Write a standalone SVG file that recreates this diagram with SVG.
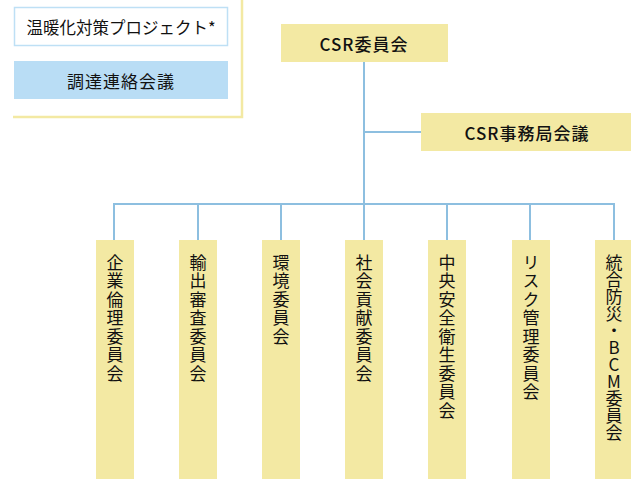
<svg xmlns="http://www.w3.org/2000/svg" width="631" height="479" viewBox="0 0 631 479">
<style>
.y{fill:#F3E9A3}
.t{font-family:"Noto Sans CJK JP","Noto Sans",sans-serif;fill:#111}
.h{font-size:17px;letter-spacing:1px;text-anchor:middle;dominant-baseline:central}
.m{font-weight:500}
.v{font-size:17px;letter-spacing:1.5px;writing-mode:vertical-rl;text-orientation:upright}
.c{stroke:#8DBFE0;stroke-width:2;fill:none}
</style>
<rect width="631" height="479" fill="#fff"/>
<g id="frame">
<path d="M13 117 H242 V0" fill="none" stroke="#F3E9A3" stroke-width="2.5"/>
</g>
<g id="warming">
<rect x="14.5" y="7.5" width="213" height="38" fill="#fff" stroke="#BEE0F5" stroke-width="1.5"/>
<text class="t h" x="121" y="27" style="font-size:16.5px;letter-spacing:0">温暖化対策プロジェクト*</text>
</g>
<g id="procurement">
<rect x="14" y="61" width="214" height="38" fill="#B9DDF5"/>
<text class="t h" x="121" y="80" style="letter-spacing:1px">調達連絡会議</text>
</g>
<g id="connectors">
<path class="c" d="M364 62 V204 M364 132 H421 M114 240 V204 H614 V240 M198 204 V240 M281 204 V240 M364 204 V240 M447 204 V240 M530 204 V240"/>
</g>
<g id="csr">
<rect class="y" x="281" y="24" width="167" height="38"/>
<text class="t h m" x="364" y="43">CSR委員会</text>
</g>
<g id="csr-office">
<rect class="y" x="421" y="113" width="210" height="38"/>
<text class="t h m" x="527" y="132">CSR事務局会議</text>
</g>
<g id="c1"><rect class="y" x="96" y="240" width="38" height="239"/><text class="t v" x="115" y="254">企業倫理委員会</text></g>
<g id="c2"><rect class="y" x="179" y="240" width="38" height="239"/><text class="t v" x="198" y="254">輸出審査委員会</text></g>
<g id="c3"><rect class="y" x="262" y="240" width="38" height="239"/><text class="t v" x="281" y="254">環境委員会</text></g>
<g id="c4"><rect class="y" x="345" y="240" width="38" height="239"/><text class="t v" x="364" y="254">社会貢献委員会</text></g>
<g id="c5"><rect class="y" x="428" y="240" width="38" height="239"/><text class="t v" x="447" y="254">中央安全衛生委員会</text></g>
<g id="c6"><rect class="y" x="512" y="240" width="38" height="239"/><text class="t v" x="531" y="254">リスク管理委員会</text></g>
<g id="c7"><rect class="y" x="595" y="240" width="38" height="239"/><text class="t v" x="614" y="254" style="letter-spacing:0">統合防災・BCM委員会</text></g>
</svg>
